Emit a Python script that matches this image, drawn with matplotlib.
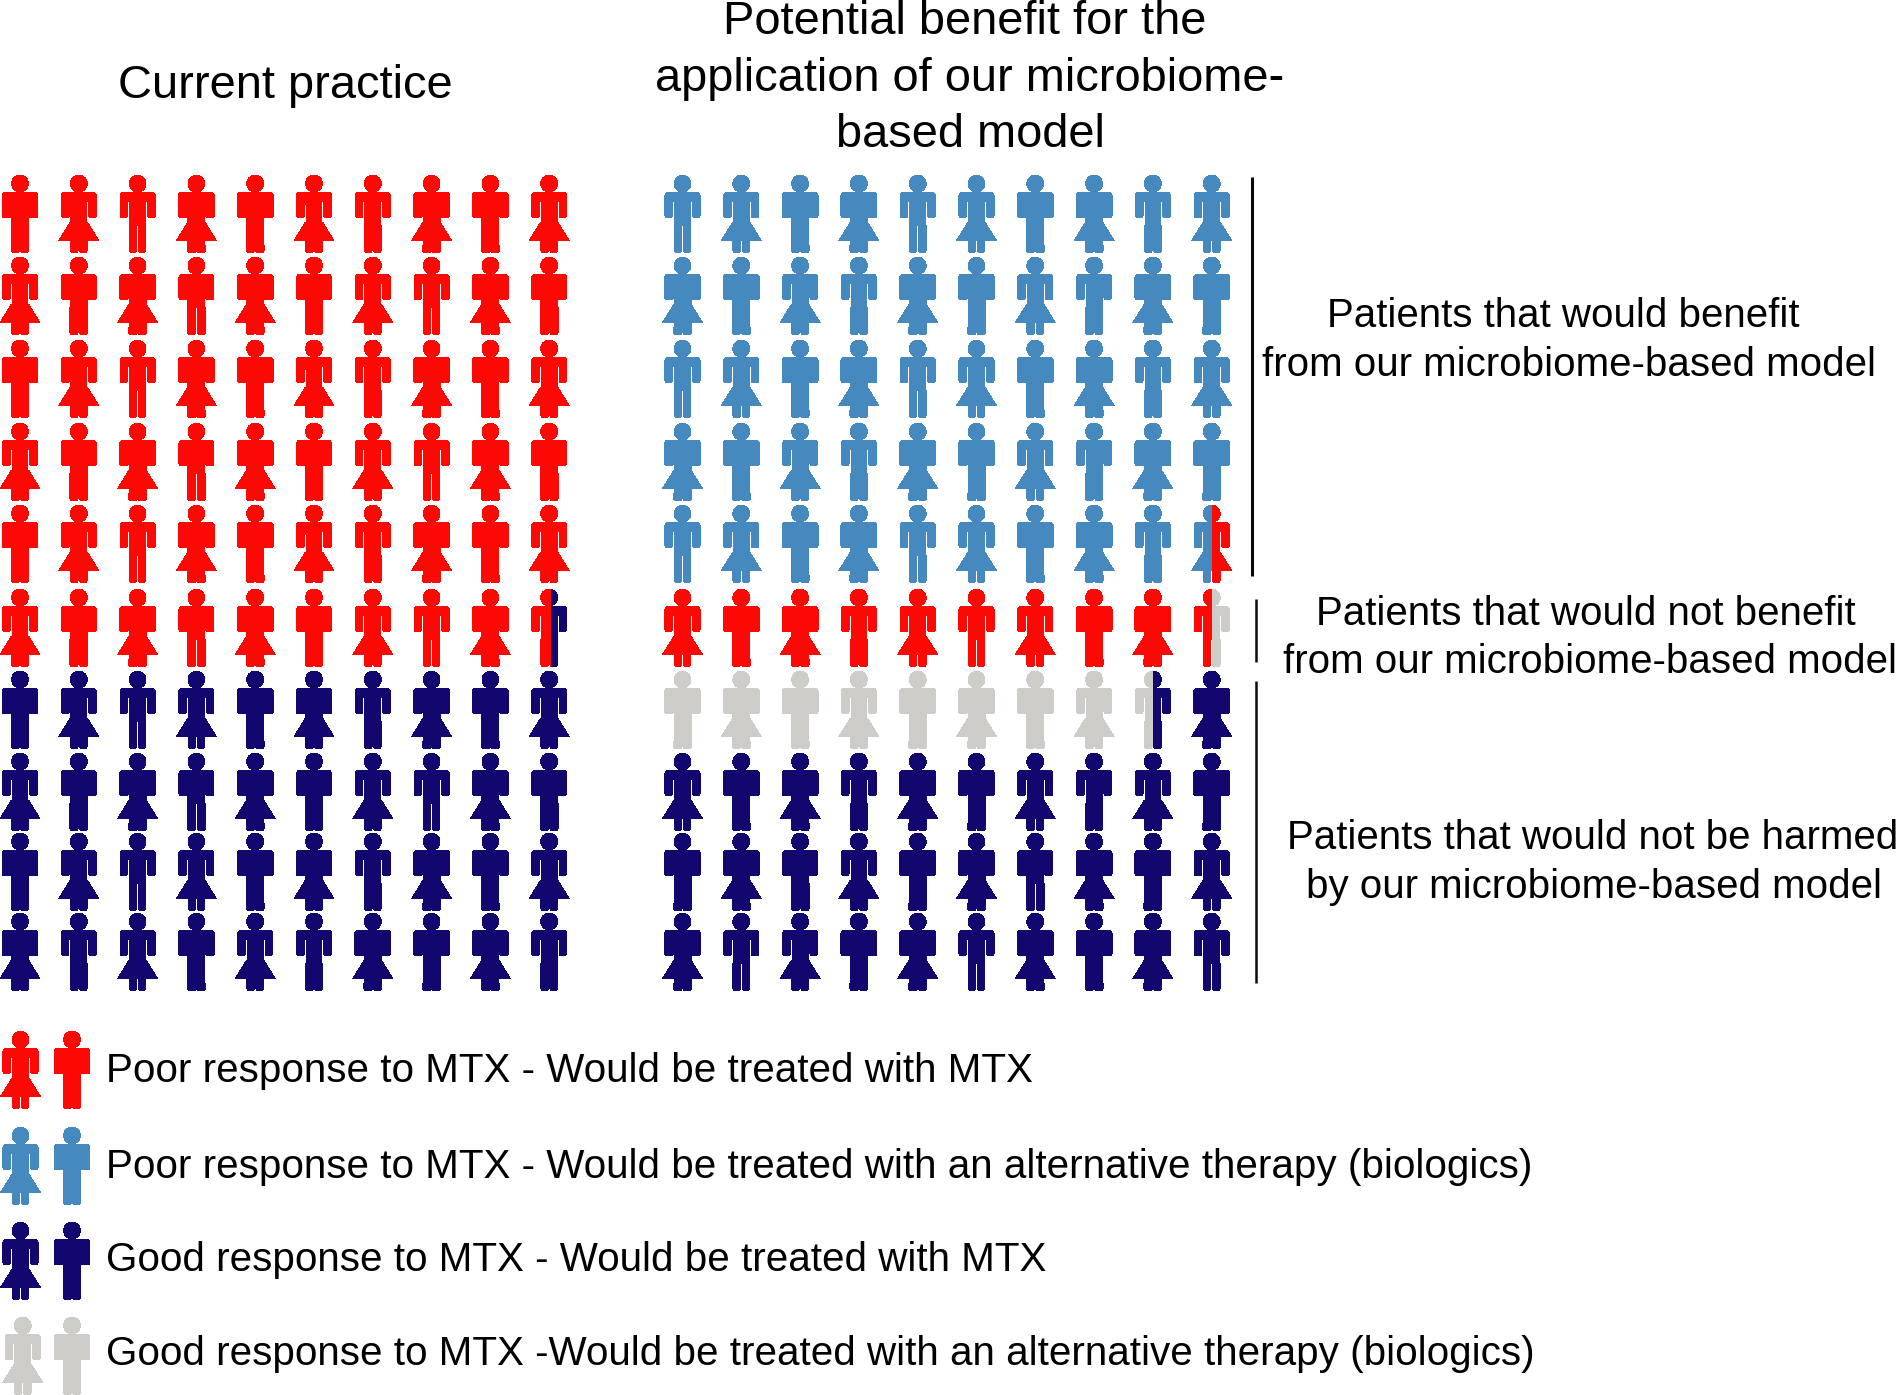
import matplotlib
matplotlib.use('Agg')
import matplotlib.pyplot as plt
import numpy as np
from matplotlib.patches import Polygon, Circle, Rectangle

plt.rcParams['font.family'] = ['Liberation Sans', 'DejaVu Sans']

RED = '#FB0A05'
BLUE = '#4589BF'
NAVY = '#12066F'
GRAY = '#CDCCC8'
colours = {'r': RED, 'b': BLUE, 'n': NAVY, 'g': GRAY}

# T/M/W are the male icons, F/R/G the female ones
left_kinds = ['WRTGWRTGWF', 'FMGMGMFTGM', 'WRTGWRTGWF', 'FMGMGMFTGM', 'WRTGWRTGWF',
              'FMGMGMFTGT', 'WRTFWGTGWF', 'FMGMGMFTGM', 'WRTFWGTGWF', 'GTFWFTGWGT']
left_cols = ['rrrrrrrrrr'] * 6 + ['nnnnnnnnnn'] * 4
right_kinds = ['TFWGTFWGTF', 'GWFTGWFTGW', 'TFWGTFWGTF', 'GWFTGWFTGW', 'TFWGTFWGTF',
               'FWGTFTFWGT', 'WGWFWGWFTG', 'FWGTGWFTFW', 'WGMFWGMGWF', 'GTFWGTGWGT']
right_cols = ['bbbbbbbbbb'] * 5 + ['rrrrrrrrrr', 'ggggggggnn'] + ['nnnnnnnnnn'] * 3

# row, col: colour left of the cut, colour right of it, cut position from icon centre
left_splits = {(5, 9): ('r', 'n', 2)}
right_splits = {(4, 9): ('b', 'r', 0), (5, 9): ('r', 'g', 0), (6, 8): ('g', 'n', 0)}

row_tops = [175, 257, 340, 423, 505, 589, 671, 753, 833, 913]
left_x0 = 20
right_x0 = 682.5
col_step = 58.8

legend_labels = ['Poor response to MTX - Would be treated with MTX',
                 'Poor response to MTX - Would be treated with an alternative therapy (biologics)',
                 'Good response to MTX - Would be treated with MTX',
                 'Good response to MTX -Would be treated with an alternative therapy (biologics)']
legend_cols = ['r', 'b', 'n', 'g']
legend_tops = [1031, 1127, 1222, 1317]
legend_base = [1082, 1178, 1271, 1365]


def arc(cx, cy, r, a0, a1):
    t = np.radians(np.linspace(a0, a1, 6))
    return [(cx + r * np.cos(v), cy + r * np.sin(v)) for v in t]


def box(x0, x1, y0, y1, top=0, bot=0):
    # y runs downwards here, so the corners go clockwise on the page
    pts = []
    pts += arc(x1 - top, y0 + top, top, -90, 0) if top else [(x1, y0)]
    pts += arc(x1 - bot, y1 - bot, bot, 0, 90) if bot else [(x1, y1)]
    pts += arc(x0 + bot, y1 - bot, bot, 90, 180) if bot else [(x0, y1)]
    pts += arc(x0 + top, y0 + top, top, 180, 270) if top else [(x0, y0)]
    return pts


def parts(kind):
    shapes = []
    if kind in 'TF':
        hw, aw, tw = 17.6, 7.8, 8.4
    elif kind == 'R':
        hw, aw, tw = 17.6, 8.2, 8.4
    elif kind == 'M':
        hw, aw, tw = 17.5, 8.6, 9
    else:
        hw, aw, tw = 18, 9.2, 9
    # shoulders, arms, trunk
    shapes.append(box(-hw, hw, 17.3, 27, top=3.5))
    shapes.append(box(-hw, -hw + aw, 21, 43, bot=3))
    shapes.append(box(hw - aw, hw, 21, 43, bot=3))
    shapes.append(box(-tw, tw, 20, 51))
    if kind == 'R':
        shapes.append(box(-hw + aw - 1, -tw + 1, 20, 30))
    shapes.append(box(-1, 1, 14, 18))
    if kind in 'FRG':
        shapes.append([(-8.7, 47.5), (8.7, 47.5), (20, 65.7), (-20, 65.7)])
    # legs
    if kind in 'TMFR':
        shapes.append(box(-tw, -0.7, 50, 77.5, bot=2.5))
        shapes.append(box(0.7, tw, 50, 77.5, bot=2.5))
    else:
        shapes.append(box(-tw, tw, 50, 74))
        shapes.append(box(-tw, -0.3, 70, 77.5, bot=2.5))
        shapes.append(box(0.3, tw, 70, 77.5, bot=2.5))
    return shapes


def person(ax, cx, top, kind, col, split=None):
    for shape in parts(kind) + ['head']:
        for c, cut in ([(col, None)] if split is None else [(split[0], 'l'), (split[1], 'r')]):
            if shape == 'head':
                p = Circle((cx, top + 8.6), 8.4, fc=colours[c], ec='none', antialiased=False)
            else:
                pts = [(cx + a, top + b) for a, b in shape]
                p = Polygon(pts, closed=True, fc=colours[c], ec='none', antialiased=False)
            ax.add_patch(p)
            if cut == 'l':
                p.set_clip_path(Rectangle((cx - 30, top - 5), 30 + split[2], 95, transform=ax.transData))
            elif cut == 'r':
                p.set_clip_path(Rectangle((cx + split[2], top - 5), 30, 95, transform=ax.transData))


fig = plt.figure(figsize=(18.97, 13.95), dpi=100)
ax = fig.add_axes([0, 0, 1, 1])
ax.set_xlim(0, 1897)
ax.set_ylim(1395, 0)
ax.axis('off')

for r, top in enumerate(row_tops):
    for c in range(10):
        person(ax, left_x0 + c * col_step, top, left_kinds[r][c], left_cols[r][c], left_splits.get((r, c)))
        person(ax, right_x0 + c * col_step, top, right_kinds[r][c], right_cols[r][c], right_splits.get((r, c)))

for top, col, base, label in zip(legend_tops, legend_cols, legend_base, legend_labels):
    person(ax, 22.7 if col == 'g' else 20.5, top, 'F', col)
    person(ax, 72, top, 'W', col)
    ax.text(106, base, label, fontsize=29.05, color='black', va='baseline', ha='left')

ax.plot([1252, 1252], [177, 576], color='#0A0A0A', lw=2.2, solid_capstyle='butt')
ax.plot([1255.8, 1255.8], [599, 662], color='#0A0A0A', lw=1.8, solid_capstyle='butt')
ax.plot([1255.8, 1255.8], [681, 983], color='#0A0A0A', lw=1.8, solid_capstyle='butt')

head_size = 33.8
ax.text(285.5, 98, 'Current practice', fontsize=head_size, ha='center', va='baseline')
ax.text(964.5, 34, 'Potential benefit for the', fontsize=head_size, ha='center', va='baseline')
ax.text(970, 91, 'application of our microbiome-', fontsize=head_size, ha='center', va='baseline')
ax.text(970, 147, 'based model', fontsize=head_size, ha='center', va='baseline')

side_size = 29
ax.text(1563.5, 327, 'Patients that would benefit', fontsize=side_size, ha='center', va='baseline')
ax.text(1569, 376.5, 'from our microbiome-based model', fontsize=side_size, ha='center', va='baseline')
ax.text(1586, 625, 'Patients that would not benefit', fontsize=side_size, ha='center', va='baseline')
ax.text(1590, 673, 'from our microbiome-based model', fontsize=side_size, ha='center', va='baseline')
ax.text(1593, 849, 'Patients that would not be harmed', fontsize=side_size, ha='center', va='baseline')
ax.text(1594, 898, 'by our microbiome-based model', fontsize=side_size, ha='center', va='baseline')

fig.savefig('out.png', dpi=100)
